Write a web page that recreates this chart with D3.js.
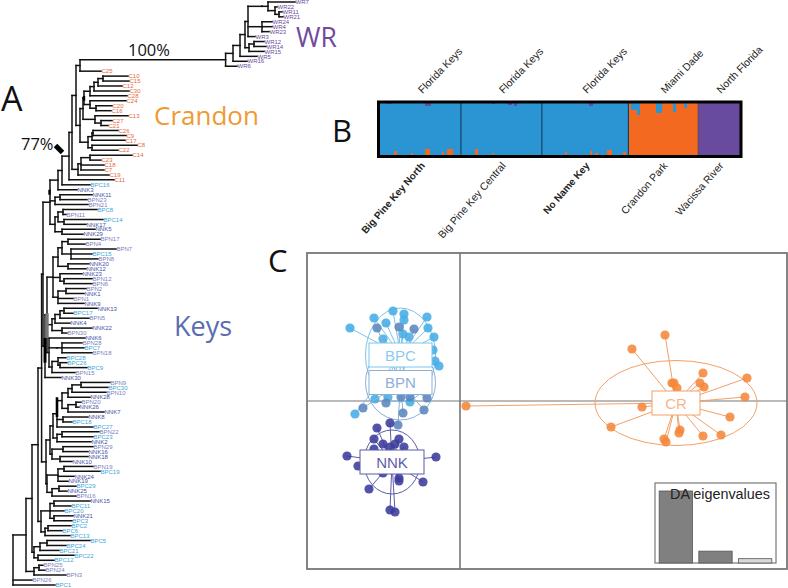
<!DOCTYPE html>
<html>
<head>
<meta charset="utf-8">
<script src="https://cdn.jsdelivr.net/npm/d3@7"></script>
<style>
  html, body { margin: 0; padding: 0; background: #fff; }
  svg { display: block; }
  text { font-family: "Liberation Sans", Arial, sans-serif; }
  .big { font-family: "Open Sans", sans-serif; }
</style>
</head>
<body>
<svg id="fig" width="788" height="588"></svg>
<script>
// tree clades: ["leaf", depth] or [nodeDepth, child, child, ...], children listed top to bottom
var wrClade = [225.6,
  [233,
    [240,
      [245,
        [248,
          [262, [268, ["WR7", 295], [275, ["WR22", 277], [279, ["WR11", 282], ["WR21", 283]]]]],
          [262, ["WR24", 272], ["WR4", 272], ["WR23", 269]],
          ["WR3", 255]],
        [249, [254, ["WR12", 264], ["WR14", 266]], ["WR15", 264]]],
      ["WR5", 257]],
    ["WR16", 247]],
  ["WR6", 237]];

var crandonUpper = [83,
  [84,
    [90, [94, [98, [103, ["C10", 128], ["C15", 129]], ["C12", 122]], ["C30", 129]], ["C28", 127]],
    [90, ["C24", 126], [96, ["C20", 112], ["C16", 111]]]],
  [95, ["C13", 128], [101, ["C27", 112], ["C21", 108]]]];

var crandonMiddle = [88,
  [92, [93, ["C26", 118], ["C9", 126]], ["C17", 125]],
  [92, ["C8", 137], ["C22", 118]]];

var crandonLower = [78,
  [81, [90, ["C14", 132], ["C23", 101]], ["C18", 104], ["C7", 104]],
  ["C19", 109]];

var upperKeys = [50,
  [58,
    [62,
      [69,
        [72,
          [76, [80, wrClade, ["C25", 101]], [80, crandonUpper, crandonMiddle]],
          crandonLower],
        ["C11", 114]],
      ["BPC16", 90]],
    ["NNK3", 77]],
  [55, [60, ["NNK11", 92], ["BPN23", 87]], ["BPN21", 88]],
  [55,
    [58, [63, ["BPC8", 97], ["BPN11", 66]], [64, ["BPC14", 103], ["NNK17", 86]]],
    [62, ["NNK5", 95], ["NNK29", 83]]]];

var keysA = [53,
  [58,
    [62,
      [68, ["BPN17", 100], ["BPN4", 85]],
      [71, ["BPN7", 116], ["BPC15", 92], ["BPN8", 98]]],
    [68, ["NNK20", 89], ["NNK12", 86]]],
  [60, ["NNK23", 82], [64, ["BPN12", 92], ["BPN6", 92]]],
  [58, [66, ["BPN2", 86], ["NNK1", 84]], ["BPN1", 73], ["NNK9", 84]]];

var keysB = [52,
  [55, [60, [64, ["NNK13", 97], ["BPC17", 73]], ["BPN5", 89]], ["NNK4", 70]],
  [62, ["NNK22", 92], ["BPN30", 67]]];

var keysC = [49,
  ["NNK6", 85],
  [57, [62, ["BPN28", 82], ["BPC7", 84], ["BPN18", 92]]],
  [52, [58, ["BPC28", 66], [60, ["BPC26", 67], ["BPC9", 87]]], ["BPN15", 75]]];

var keysD = [50,
  [53,
    [57,
      [62,
        [68, [72, [81, ["BPN9", 110], ["BPC30", 108]], ["BPN10", 106]], ["NNK28", 90]],
        [68, [76, ["BPN20", 81], ["NNK26", 79]], ["NNK7", 104]]],
      [63, ["NNK8", 88], ["BPC18", 72]],
      ["BPC27", 93]],
    [57, [62, ["BPN22", 99], ["BPC23", 93]], ["NNK2", 91]]],
  [52, [63, ["BPN29", 93], ["NNK16", 88]], [60, ["NNK18", 88], ["NNK10", 72]]]];

var keysE = [47,
  [58, [64, ["BPN19", 93], ["BPC19", 100]], ["NNK24", 74], ["NNK19", 68]],
  [52, [59, ["BPC29", 76], ["NNK25", 67]], ["BPN16", 76]]];

var keysF = [41,
  [50, [54, ["NNK15", 90], ["BPC11", 71]], ["BPC20", 64], [54, ["NNK21", 73], ["BPC3", 72]]],
  [45, [48, ["BPC2", 71], ["BPC6", 62]], ["BPC13", 70]]];

var keysG = [34,
  [40, [47, ["BPC5", 90], ["BPC24", 66]], ["BPC21", 59]],
  [38, ["BPC22", 74], ["BPC12", 54]]];

var keysH = [34, [39, ["BPN25", 43], ["BPN24", 45]], ["BPN3", 66]];

var treeRoot = [13,
  [26,
    [32,
      [38,
        [41.6,
          [43, upperKeys, [45, [47, keysA, keysB, keysC], ["NNK30", 61]]],
          [46, keysD, keysE]],
        keysF],
      keysG],
    keysH],
  ["BPN26", 32],
  ["BPC1", 55]];

// heavier stems of the tree, given by the leaves they run between
var stemLeaves = [["NNK3", "NNK11"], ["BPC17", "NNK6"], ["NNK6", "BPC26"], ["C28", "C24"], ["NNK28", "NNK8"]];
var stemDepths = [49.5, 47, 45, 84, 57];
var stemWidths = [2.4, 3.4, 3, 2.4, 2.6];
var stemColors = ["#000", "#777", "#000", "#000", "#000"];

// structure plot, one value per individual
var structPops = ["Big Pine Key North", "Big Pine Key  Central", "No Name Key", "Crandon Park", "Wacissa River"];
var structRegions = ["Florida Keys", "Florida Keys", "Florida Keys", "Miami Dade", "North Florida"];
var structSizes = [29, 29, 31, 25, 15];
var structOrange = [
  0,0,0,0,0,.08,0,0,0,0,0,.03,0,0,0,0,.11,.11,0,0,0,0,.06,0,.12,.12,0,0,.02,
  0,0,0,0,0,.11,0,0,0,0,0,.04,0,0,0,0,0,0,0,0,0,0,0,0,0,0,0,0,0,
  0,0,0,0,0,0,0,0,.05,0,0,0,0,0,0,0,0,.08,0,.04,0,0,0,.09,.09,0,0,0,0,.05,0,
  1,.87,.87,.77,1,1,1,1,1,1,.81,.81,1,1,1,1,.83,1,1,1,.9,1,1,1,1,
  0,0,0,0,0,0,0,0,0,0,0,0,0,0,0];
var structPurple = [
  0,0,.01,.01,0,0,0,0,0,0,0,0,0,0,0,0,.05,.05,0,0,0,0,0,0,0,0,0,0,0,
  0,0,0,0,0,0,0,0,0,0,0,.02,0,0,0,0,0,.03,0,.06,0,0,0,0,0,0,0,0,0,
  0,0,0,0,0,0,0,0,0,0,0,0,0,0,0,0,0,.05,0,0,0,0,0,0,0,0,0,0,0,0,0,
  0,0,0,0,0,0,0,0,0,0,0,0,0,0,0,0,0,0,0,0,0,0,0,0,0,
  1,1,1,1,1,1,1,1,1,1,1,1,1,1,1];

// DAPC scatter, axis units
var bpcX = [-11.0,-8.6,-6.7,-5.6,-5.6,-3.3,-7.4,-3.2,-2.6,-7.7,-5.7,-5.1,-2.7,-2.5,-2.1,-8.5,-10.5,-7.2,-5.0];
var bpcY = [7.3,8.3,9.0,8.7,8.1,8.4,7.8,7.3,6.4,6.2,6.7,6.4,5.1,4.0,3.5,0.2,-1.3,0.4,-0.1];
var bpnX = [-8.3,-6.1,-4.6,-9.7,-7.4,-5.9,-5.0,-3.3,-3.6,-5.7,-6.2];
var bpnY = [7.3,7.4,7.2,-0.7,-0.2,0.4,0.4,0.3,-0.9,-1.2,-2.4];
var nnkX = [-8.3,-7.0,-8.6,-7.7,-6.1,-6.5,-5.6,-7.0,-8.6,-11.3,-10.2,-2.4,-7.7,-6.1,-6.1,-3.7,-9.1,-7.0,-6.5];
var nnkY = [-2.7,-2.2,-3.8,-4.3,-3.8,-4.3,-4.6,-4.6,-4.8,-5.5,-6.5,-5.6,-7.2,-7.7,-8.0,-8.1,-8.8,-10.9,-11.1];
var crX = [20.5,17.2,21.2,21.4,21.7,24.3,24.0,24.4,28.7,28.5,27.0,26.1,24.3,22.0,21.9,20.4,20.6,18.2,15.1,0.6];
var crY = [6.6,5.2,1.8,1.8,1.3,2.8,1.8,1.4,2.3,0.4,-1.6,-3.4,-3.5,-2.9,-3.2,-3.8,-4.1,-0.6,-2.6,-0.5];

var groupNames = ["BPC", "BPN", "NNK", "CR"];
var groupCentreX = [-5.95, -5.95, -6.8, 21.6];
var groupCentreY = [4.6, 1.85, -6.1, -0.2];
var groupRadiusX = [3.5, 3.5, 2.8, 8.1];
var groupRadiusY = [4.7, 3.75, 3.2, 4.25];

var eigenvalues = [100, 16.5, 6];

var svg = d3.select("#fig");

// ---- A: tree ----
function isLeaf(n) { return typeof n[0] === "string"; }

var leaves = [];
(function collect(n) {
  if (isLeaf(n)) { leaves.push(n); return; }
  n.slice(1).forEach(collect);
})(treeRoot);

var treeX = d3.scaleLinear().domain([0, 300]).range([0, 300]);
var treeY = d3.scaleLinear().domain([0, leaves.length - 1]).range([2, 585]);
var leafIndex = {};
leaves.forEach(function (l, i) { leafIndex[l[0]] = i; });

var segs = [];
function place(n, parentDepth) {
  var depth = n[isLeaf(n) ? 1 : 0];
  var y;
  if (isLeaf(n)) {
    y = treeY(leafIndex[n[0]]);
  } else {
    var ys = n.slice(1).map(function (c) { return place(c, depth); });
    y = (ys[0] + ys[ys.length - 1]) / 2;
    segs.push([depth, ys[0], depth, ys[ys.length - 1]]);
  }
  if (parentDepth !== null) segs.push([parentDepth, y, depth, y]);
  return y;
}
place(treeRoot, null);

var treeG = svg.append("g");
treeG.selectAll("line").data(segs).enter().append("line")
  .attr("x1", function (d) { return treeX(d[0]); })
  .attr("y1", function (d) { return d[1]; })
  .attr("x2", function (d) { return treeX(d[2]); })
  .attr("y2", function (d) { return d[3]; })
  .attr("stroke", "#111").attr("stroke-width", 1.5).attr("stroke-linecap", "square");

stemLeaves.forEach(function (s, i) {
  treeG.append("line")
    .attr("x1", treeX(stemDepths[i])).attr("x2", treeX(stemDepths[i]))
    .attr("y1", treeY(leafIndex[s[0]])).attr("y2", treeY(leafIndex[s[1]]))
    .attr("stroke", stemColors[i]).attr("stroke-width", stemWidths[i]);
});

var labelColor = { WR: "#6a4a9c", C: "#e8683c", BPC: "#3ea6d8", BPN: "#7c80bc", NNK: "#46509f" };
treeG.selectAll("text").data(leaves).enter().append("text")
  .attr("x", function (d) { return treeX(d[1]) + 0.5; })
  .attr("y", function (d, i) { return treeY(i) + 2.2; })
  .attr("font-size", 6)
  .attr("fill", function (d) { return labelColor[d[0].replace(/[0-9]/g, "")]; })
  .text(function (d) { return d[0]; });

// the 77% support mark
svg.append("line").attr("x1", 55.5).attr("y1", 145.5).attr("x2", 62.5).attr("y2", 152.5)
  .attr("stroke", "#000").attr("stroke-width", 5);

function bigText(t, x, y, size, color) {
  svg.append("text").attr("class", "big").attr("x", x).attr("y", y)
    .attr("font-size", size).attr("fill", color).text(t);
}
bigText("A", 1, 111, 34, "#111");
bigText("B", 332, 142, 31, "#111");
bigText("C", 268, 272, 31, "#111");
bigText("WR", 296, 47, 26.5, "#6f4a9e");
bigText("Crandon", 154, 125, 26, "#ee9a35");
bigText("Keys", 174, 336, 27, "#5a6cb2");
bigText("100%", 128, 56, 16.5, "#111");
bigText("77%", 21, 150, 16.5, "#111");

// ---- B: structure plot ----
var total = d3.sum(structSizes);
var rows = d3.range(total).map(function (i) {
  return { i: i, orange: structOrange[i], purple: structPurple[i], blue: 1 - structOrange[i] - structPurple[i] };
});
var structX = d3.scaleLinear().domain([0, total]).range([380, 740]);
var structY = d3.scaleLinear().domain([0, 1]).range([155, 103]);
var structColors = { orange: "#f2691f", blue: "#2b94d3", purple: "#684a9e" };
var stack = d3.stack().keys(["orange", "blue", "purple"]);

svg.append("g").attr("shape-rendering", "crispEdges")
  .selectAll("g").data(stack(rows)).enter().append("g")
  .attr("fill", function (s) { return structColors[s.key]; })
  .selectAll("rect").data(function (s) { return s; }).enter().append("rect")
  .attr("x", function (d) { return structX(d.data.i); })
  .attr("width", structX(1) - structX(0) + 0.5)
  .attr("y", function (d) { return structY(d[1]); })
  .attr("height", function (d) { return structY(d[0]) - structY(d[1]); });

var starts = d3.cumsum(structSizes);
starts.slice(0, 4).forEach(function (s, i) {
  svg.append("line").attr("x1", structX(s)).attr("x2", structX(s)).attr("y1", 103).attr("y2", 155)
    .attr("stroke", i < 3 ? "#12334d" : "#6b4a50").attr("stroke-width", 1);
});
svg.append("rect").attr("x", 378.5).attr("y", 102).attr("width", 362.5).attr("height", 54.5)
  .attr("fill", "none").attr("stroke", "#000").attr("stroke-width", 3);

var lowerSizes = [10, 10.5, 10, 10.5, 10.5];
starts.forEach(function (s, i) {
  var mid = structX(s - structSizes[i] / 2);
  svg.append("text").attr("transform", "translate(" + (mid + 2) + ",94) rotate(-46)")
    .attr("font-size", 10.5).attr("fill", "#222").text(structRegions[i]);
  svg.append("text").attr("transform", "translate(" + (mid + 5) + ",166) rotate(-49)")
    .attr("text-anchor", "end").attr("font-size", lowerSizes[i]).attr("fill", "#222")
    .attr("font-weight", i === 0 || i === 2 ? "bold" : "normal").text(structPops[i]);
});

// ---- C: DAPC scatter ----
var sx = d3.scaleLinear().domain([-15.3, 32.7]).range([307, 787]);
var sy = d3.scaleLinear().domain([14.8, -16.8]).range([253, 569]);
var plot = svg.append("g");

plot.append("rect").attr("x", sx(-15.3)).attr("y", sy(14.8))
  .attr("width", sx(32.7) - sx(-15.3)).attr("height", sy(-16.8) - sy(14.8))
  .attr("fill", "none").attr("stroke", "#777").attr("stroke-width", 1.8);
plot.append("line").attr("x1", sx(0)).attr("x2", sx(0)).attr("y1", sy(14.8)).attr("y2", sy(-16.8))
  .attr("stroke", "#777").attr("stroke-width", 1.6);
plot.append("line").attr("x1", sx(-15.3)).attr("x2", sx(32.7)).attr("y1", sy(0)).attr("y2", sy(0))
  .attr("stroke", "#777").attr("stroke-width", 1.2);

var groupXs = [bpcX, bpnX, nnkX, crX];
var groupYs = [bpcY, bpnY, nnkY, crY];
var dotColors = ["#46ade6", "#5a86bd", "#3b3c9c", "#f5873a"];
var lineColors = ["#7cc4ec", "#8cb0d8", "#5b5ba8", "#f4a06a"];
var textColors = ["#8ccbef", "#8eaedb", "#5d5da9", "#f5b78a"];
var boxWidths = [63, 63, 64, 48];
var boxHeight = 24;

[3, 0, 1, 2].forEach(function (g) {
  var cx = groupCentreX[g], cy = groupCentreY[g];
  var layer = plot.append("g");
  var pts = d3.zip(groupXs[g], groupYs[g]);
  layer.selectAll("line").data(pts).enter().append("line")
    .attr("x1", sx(cx)).attr("y1", sy(cy))
    .attr("x2", function (d) { return sx(d[0]); })
    .attr("y2", function (d) { return sy(d[1]); })
    .attr("stroke", lineColors[g]).attr("stroke-width", 1);
  layer.append("ellipse").attr("cx", sx(cx)).attr("cy", sy(cy))
    .attr("rx", sx(cx + groupRadiusX[g]) - sx(cx))
    .attr("ry", sy(cy - groupRadiusY[g]) - sy(cy))
    .attr("fill", "none").attr("stroke", lineColors[g]).attr("stroke-width", 1);
  layer.selectAll("circle").data(pts).enter().append("circle")
    .attr("cx", function (d) { return sx(d[0]); })
    .attr("cy", function (d) { return sy(d[1]); })
    .attr("r", 4.6).attr("fill", dotColors[g]).attr("fill-opacity", 0.88);
});

// boxes go on top of every group
[0, 1, 2, 3].forEach(function (g) {
  var bx = sx(groupCentreX[g]), by = sy(groupCentreY[g]);
  plot.append("rect").attr("x", bx - boxWidths[g] / 2).attr("y", by - boxHeight / 2)
    .attr("width", boxWidths[g]).attr("height", boxHeight)
    .attr("fill", "#fff").attr("stroke", lineColors[g]).attr("stroke-width", 1);
  plot.append("text").attr("x", bx).attr("y", by + 5.5).attr("text-anchor", "middle")
    .attr("font-size", 15).attr("fill", textColors[g]).text(groupNames[g]);
});

// eigenvalue inset
var eigX = d3.scaleBand().domain(d3.range(eigenvalues.length)).range([656, 775]).paddingInner(0.16).paddingOuter(0.08);
var eigY = d3.scaleLinear().domain([0, 100]).range([563, 491]);
plot.append("rect").attr("x", 655).attr("y", 483).attr("width", 121).attr("height", 80)
  .attr("fill", "#fff").attr("stroke", "#777").attr("stroke-width", 1.2);
plot.selectAll("rect.eig").data(eigenvalues).enter().append("rect").attr("class", "eig")
  .attr("x", function (d, i) { return eigX(i); })
  .attr("width", eigX.bandwidth())
  .attr("y", function (d) { return eigY(d); })
  .attr("height", function (d) { return eigY(0) - eigY(d); })
  .attr("fill", function (d, i) { return i < 2 ? "#808080" : "#d8d8d8"; })
  .attr("stroke", "#555").attr("stroke-width", 0.8);
plot.append("text").attr("x", 670).attr("y", 499).attr("font-size", 14.4).attr("fill", "#222").text("DA eigenvalues");
</script>
</body>
</html>
